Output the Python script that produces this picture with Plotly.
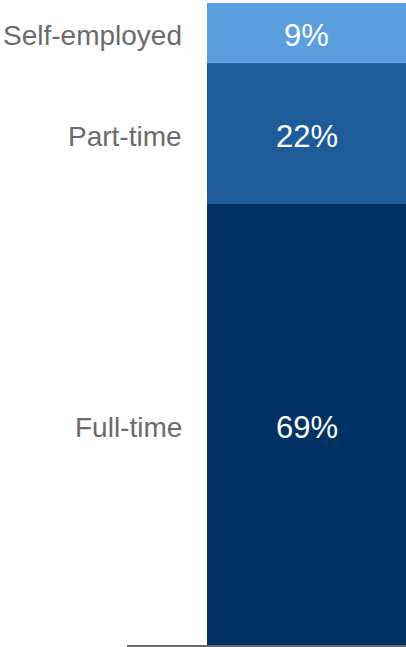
import plotly.graph_objects as go

categories = ["Full-time", "Part-time", "Self-employed"]
values = [68.7, 22.0, 9.3]
colors = ["#003264", "#1E5C99", "#5B9EDE"]
value_labels = [f"{round(v)}%" for v in values]

FONT = "Arial, Liberation Sans, sans-serif"

fig = go.Figure()
base = 0
annotations = []
for cat, val, col, lab in zip(categories, values, colors, value_labels):
    fig.add_trace(go.Bar(
        x=[0], y=[val], base=[base], width=1,
        marker=dict(color=col, line=dict(width=0)),
        name=cat, showlegend=False, hoverinfo="skip",
    ))
    mid = base + val / 2
    annotations.append(dict(
        x=-0.5, y=mid, xref="x", yref="y",
        text=cat, showarrow=False, xanchor="right", yanchor="middle",
        xshift=-23, yshift=-3, font=dict(color="#6b6b6b", size=28, family=FONT),
    ))
    annotations.append(dict(
        x=0, y=mid, xref="x", yref="y",
        text=lab, showarrow=False, xanchor="center", yanchor="middle",
        yshift=-3, font=dict(color="white", size=31, family=FONT),
    ))
    base += val

fig.update_layout(
    width=406, height=647,
    margin=dict(l=0, r=0, t=3, b=2),
    paper_bgcolor="white", plot_bgcolor="white",
    barmode="overlay",
    annotations=annotations,
    xaxis=dict(domain=[127 / 406, 1], range=[-0.902, 0.5], showgrid=False,
               zeroline=False, showticklabels=False, ticks="",
               showline=True, linecolor="#6b6b6b", linewidth=2, fixedrange=True),
    yaxis=dict(range=[0, 100], showgrid=False, zeroline=False,
               showticklabels=False, ticks="", showline=False, fixedrange=True),
)

fig.write_html(
    "out.html",
    config={"displayModeBar": False},
    post_script="document.body.style.margin='0';document.body.style.overflow='hidden';",
)
